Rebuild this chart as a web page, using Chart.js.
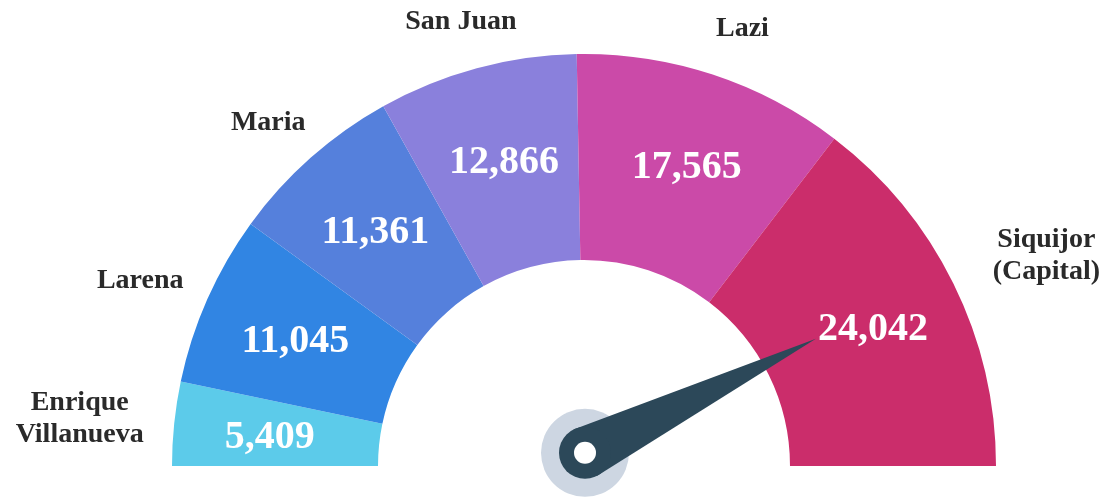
<!DOCTYPE html>
<html><head><meta charset="utf-8">
<script src="https://cdn.jsdelivr.net/npm/chart.js@4/dist/chart.umd.min.js"></script>
<style>html,body{margin:0;padding:0;background:#fff;} #wrap{width:1107px;height:497px;position:relative;}</style>
</head><body><div id="wrap"><canvas id="c"></canvas></div>
<script>
const categories = [['Enrique', 'Villanueva'], ['Larena'], ['Maria'], ['San Juan'], ['Lazi'], ['Siquijor', '(Capital)']];
const population = [5409, 11045, 11361, 12866, 17565, 24042];
const needleCategory = 5;
const segmentColors = ['#5ccbea', '#3185e3', '#5580dc', '#8a80dc', '#cb4aa8', '#cb2d6b'];

const serif = '"Liberation Serif", "Times New Roman", serif';

const gaugePlugin = {
  id: 'gauge',
  afterDatasetsDraw(chart) {
    const ctx = chart.ctx;
    const arcs = chart.getDatasetMeta(0).data;
    if (!arcs.length) return;
    const a0 = arcs[0];
    const cx = a0.x, cy = a0.y;
    const outer = a0.outerRadius, inner = a0.innerRadius;

    // hub + needle
    const hx = cx + 1, hy = cy - outer * 0.032;
    const nArc = arcs[needleCategory];
    const nAng = (nArc.startAngle + nArc.endAngle) / 2;
    const len = outer * 0.625;
    const tx = hx + Math.cos(nAng) * len, ty = hy + Math.sin(nAng) * len;
    ctx.save();
    ctx.fillStyle = '#cdd6e2';
    ctx.beginPath(); ctx.arc(hx, hy, 44, 0, Math.PI * 2); ctx.fill();
    ctx.fillStyle = '#2c4859';
    const px = -Math.sin(nAng), py = Math.cos(nAng);
    const hw = 26;
    ctx.beginPath();
    ctx.moveTo(hx + px * hw, hy + py * hw);
    ctx.lineTo(tx, ty);
    ctx.lineTo(hx - px * hw, hy - py * hw);
    ctx.closePath(); ctx.fill();
    ctx.beginPath(); ctx.arc(hx, hy, 26, 0, Math.PI * 2); ctx.fill();
    ctx.fillStyle = '#ffffff';
    ctx.beginPath(); ctx.arc(hx, hy, 11, 0, Math.PI * 2); ctx.fill();
    ctx.restore();

    // value labels inside segments
    ctx.save();
    ctx.font = 'bold 40px ' + serif;
    ctx.fillStyle = '#ffffff';
    ctx.textAlign = 'center';
    ctx.textBaseline = 'middle';
    const rv = (inner + outer) / 2 + 10;
    arcs.forEach((arc, i) => {
      const ang = (arc.startAngle + arc.endAngle) / 2;
      ctx.fillText(population[i].toLocaleString('en-US'), cx + Math.cos(ang) * rv + 3, cy + Math.sin(ang) * rv + 5);
    });
    ctx.restore();

    // category labels outside
    ctx.save();
    ctx.font = 'bold 28px ' + serif;
    ctx.fillStyle = '#2a2a2a';
    ctx.textAlign = 'center';
    ctx.textBaseline = 'middle';
    const lh = 32;
    const r0 = outer + 40;
    arcs.forEach((arc, i) => {
      const ang = (arc.startAngle + arc.endAngle) / 2;
      const lines = categories[i];
      const w = Math.max(...lines.map(l => ctx.measureText(l).width));
      const h = lines.length * lh - 12;
      const x = cx + Math.cos(ang) * r0 + Math.cos(ang) * w / 2 + 9;
      const y = cy + Math.sin(ang) * r0 + Math.sin(ang) * h / 2 + 2;
      lines.forEach((l, j) => {
        ctx.fillText(l, x, y + (j - (lines.length - 1) / 2) * lh);
      });
    });
    ctx.restore();
  }
};

new Chart(document.getElementById('c'), {
  type: 'doughnut',
  data: {
    labels: categories.map(c => c.join(' ')),
    datasets: [{
      data: population,
      backgroundColor: segmentColors,
      borderWidth: 0
    }]
  },
  options: {
    responsive: true,
    maintainAspectRatio: false,
    animation: false,
    rotation: -90,
    circumference: 180,
    cutout: '50%',
    layout: { padding: { top: 54, bottom: 31, left: 100, right: 39 } },
    plugins: { legend: { display: false }, tooltip: { enabled: false } }
  },
  plugins: [gaugePlugin]
});
</script>
</body></html>
